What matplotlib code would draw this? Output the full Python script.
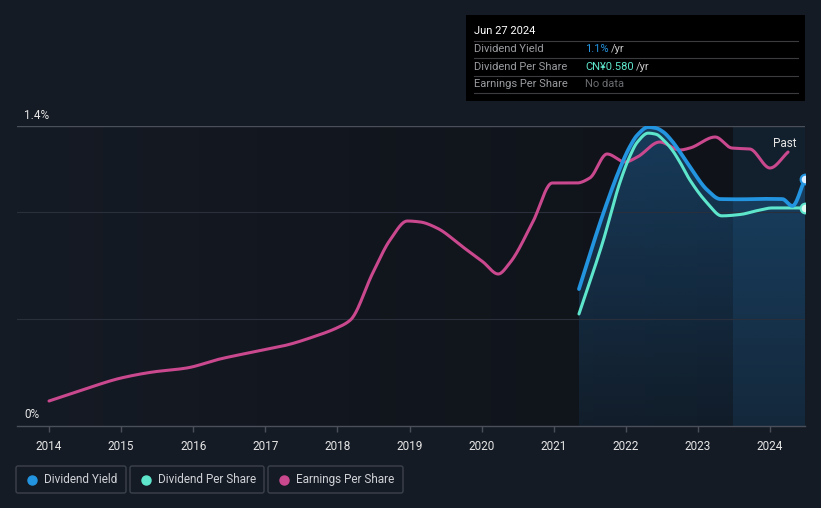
import matplotlib
matplotlib.use("Agg")
import matplotlib.pyplot as plt
import numpy as np
from matplotlib.patches import FancyBboxPatch, Rectangle

plt.rcParams['font.family'] = ['Roboto', 'DejaVu Sans']

# data (decimal years)
yield_dates = [2021.35, 2021.68, 2021.92, 2022.05, 2022.16, 2022.31, 2022.42, 2022.52,
               2022.64, 2022.75, 2022.89, 2023.13, 2023.31, 2023.6, 2023.9, 2024.17,
               2024.31, 2024.485]
yield_pct = [0.639, 0.985, 1.204, 1.30, 1.358, 1.395, 1.39, 1.372,
             1.33, 1.279, 1.209, 1.101, 1.059, 1.058, 1.06, 1.059,
             1.027, 1.153]

dps_dates = [2021.35, 2021.68, 2021.92, 2022.05, 2022.16, 2022.31, 2022.42, 2022.52,
             2022.64, 2022.75, 2022.89, 2023.13, 2023.33, 2023.6, 2023.8, 2024.03,
             2024.485]
dps_cny = [0.298, 0.489, 0.649, 0.715, 0.755, 0.779, 0.776, 0.761,
           0.735, 0.702, 0.654, 0.593, 0.559, 0.563, 0.572, 0.580,
           0.580]

eps_dates = [2014.0, 2014.5, 2015.0, 2015.44, 2015.91, 2016.37, 2016.83, 2017.3,
             2017.66, 2017.99, 2018.18, 2018.49, 2018.73, 2018.97, 2019.15, 2019.38,
             2019.74, 2020.02, 2020.23, 2020.39, 2020.71, 2020.98, 2021.32, 2021.5,
             2021.74, 2021.99, 2022.16, 2022.47, 2022.75, 2022.89, 2023.24, 2023.47,
             2023.72, 2024.0, 2024.25]
eps_cny = [0.100, 0.148, 0.192, 0.216, 0.232, 0.268, 0.296, 0.324,
           0.356, 0.392, 0.424, 0.612, 0.744, 0.820, 0.816, 0.792,
           0.716, 0.656, 0.608, 0.652, 0.816, 0.972, 0.972, 0.992,
           1.088, 1.056, 1.076, 1.136, 1.104, 1.112, 1.156, 1.112,
           1.108, 1.032, 1.096]

years = list(range(2014, 2025))
past_start = 2023.49

BG = '#151b25'
BLUE = '#2394df'
TEAL = '#5ee6cc'
PINK = '#c9488e'


def smooth(xs, ys, per_seg=24):
    # monotone cubic (Fritsch-Carlson) just for drawing the curve
    x = np.asarray(xs, float)
    y = np.asarray(ys, float)
    h = np.diff(x)
    d = np.diff(y) / h
    m = np.zeros_like(y)
    m[0], m[-1] = d[0], d[-1]
    for i in range(1, len(x) - 1):
        if d[i - 1] * d[i] > 0:
            w1 = 2 * h[i] + h[i - 1]
            w2 = h[i] + 2 * h[i - 1]
            m[i] = (w1 + w2) / (w1 / d[i - 1] + w2 / d[i])
    px, py = [], []
    for i in range(len(x) - 1):
        t = np.linspace(0, 1, per_seg, endpoint=False)
        h00 = 2 * t**3 - 3 * t**2 + 1
        h10 = t**3 - 2 * t**2 + t
        h01 = -2 * t**3 + 3 * t**2
        h11 = t**3 - t**2
        px.append(x[i] + t * h[i])
        py.append(h00 * y[i] + h10 * h[i] * m[i] + h01 * y[i + 1] + h11 * h[i] * m[i + 1])
    px.append([x[-1]])
    py.append([y[-1]])
    return np.concatenate(px), np.concatenate(py)


fig = plt.figure(figsize=(8.21, 5.08), dpi=100)
fig.patch.set_facecolor(BG)

W, H = 821, 508
ax = fig.add_axes([17 / W, (H - 426) / H, (805 - 17) / W, 300 / H])
x0, x1 = 2013.556, 2024.485
ax.set_xlim(x0, x1)
ax.set_ylim(0, 1.4)

# darkening gradient of plot area
grad = np.linspace(0, 1, 256).reshape(1, -1)
c0 = np.array([21, 27, 37]) / 255
c1 = np.array([15, 18, 24]) / 255
img = c0 + (c1 - c0) * grad[..., None] ** 0.8
ax.imshow(img, extent=[x0, x1, 0, 1.4], aspect='auto', zorder=0)

yx, yy = smooth(yield_dates, yield_pct)
dx, dy = smooth(dps_dates, dps_cny)
ex, ey = smooth(eps_dates, eps_cny)

# fill under dividend yield with vertical gradient
poly = ax.fill_between(yx, 0, yy, facecolor='none', edgecolor='none')
vg = np.linspace(1, 0, 256).reshape(-1, 1)
fill_img = np.zeros((256, 1, 4))
fill_img[..., 0:3] = np.array([35, 120, 190]) / 255
fill_img[..., 3] = 0.10 + 0.30 * vg
im = ax.imshow(fill_img, extent=[x0, x1, 0, 1.4], aspect='auto', zorder=1)
im.set_clip_path(poly.get_paths()[0], transform=ax.transData)

ax.axvspan(past_start, x1, color='#2b7fc0', alpha=0.13, lw=0, zorder=1.5)

for g in [0.5, 1.0]:
    ax.axhline(g, color='#2a303b', lw=0.8, zorder=2)
ax.axhline(1.4, color='#4a4f5a', lw=1.0, zorder=2)

for s in ['top', 'right', 'left']:
    ax.spines[s].set_visible(False)
ax.spines['bottom'].set_color('#4a4f5a')
ax.spines['bottom'].set_linewidth(1.0)
ax.set_yticks([])
ax.set_xticks(years)
ax.set_xticklabels([str(y) for y in years])
ax.tick_params(axis='x', colors='#4a4f5a', labelcolor='#e6e6e6', length=4,
               width=1, labelsize=8.5, pad=6)

ax.annotate('1.4%', (0.009, 1.4), xycoords=ax.get_yaxis_transform(),
            xytext=(0, 3), textcoords='offset points',
            color='#e6e6e6', fontsize=8.5, va='bottom', ha='left')
ax.annotate('0%', (0.009, 0.0), xycoords=ax.get_yaxis_transform(),
            xytext=(0, 3.5), textcoords='offset points',
            color='#e6e6e6', fontsize=8.5, va='bottom', ha='left')
ax.text(2024.37, 1.35, 'Past', color='#e6e6e6', fontsize=8.5, ha='right', va='top', zorder=6)

# earnings per share on its own hidden scale
ax_eps = ax.twinx()
ax_eps.set_ylim(0, 1.2)
ax_eps.axis('off')
ax_eps.plot(ex, ey, color=PINK, lw=2.2, solid_capstyle='round', solid_joinstyle='round')

# dividend per share on its own hidden scale
ax_dps = ax.twinx()
ax_dps.set_ylim(0, 0.798)
ax_dps.axis('off')
ax_dps.plot(dx, dy, color=TEAL, lw=2.2, solid_capstyle='round', solid_joinstyle='round')
ax_dps.plot(dps_dates[-1], dps_cny[-1], 'o', ms=7, mfc='#dff8f2', mec=TEAL, mew=1.5)

ax_y = ax.twinx()
ax_y.set_ylim(0, 1.4)
ax_y.axis('off')
ax_y.plot(yx, yy, color=BLUE, lw=2.7, solid_capstyle='round', solid_joinstyle='round')
ax_y.plot(yield_dates[-1], yield_pct[-1], 'o', ms=7, mfc='#e0efff', mec=BLUE, mew=1.5)

# overlay in pixel coordinates for tooltip and legend
ov = fig.add_axes([0, 0, 1, 1])
ov.set_xlim(0, W)
ov.set_ylim(H, 0)
ov.axis('off')
ov.patch.set_alpha(0)

ov.add_patch(Rectangle((466, 15), 339, 86, facecolor='#000000', edgecolor='none'))
ov.text(474, 31, 'Jun 27 2024', color='#ffffff', fontsize=8, va='center')
for ly in [41, 58, 75.5, 92.5]:
    ov.plot([474, 798], [ly, ly], color='#3a3c40', lw=0.8)
rows = [('Dividend Yield', 49.5), ('Dividend Per Share', 66.5), ('Earnings Per Share', 84)]
for label, ry in rows:
    ov.text(474, ry, label, color='#9a9ca0', fontsize=8, va='center')
ov.text(585, 49.5, '1.1%', color=BLUE, fontsize=8, va='center')
ov.text(611, 49.5, '/yr', color='#c8c8c8', fontsize=8, va='center')
ov.text(585, 66.5, 'CN¥0.580', color=TEAL, fontsize=8, va='center')
ov.text(636, 66.5, '/yr', color='#c8c8c8', fontsize=8, va='center')
ov.text(585, 84, 'No data', color='#6a6c70', fontsize=8, va='center')

legend_items = [('Dividend Yield', BLUE, 16, 110), ('Dividend Per Share', TEAL, 130, 134),
                ('Earnings Per Share', PINK, 268, 135)]
for label, col, bx, bw in legend_items:
    ov.add_patch(FancyBboxPatch((bx, 466), bw, 27, boxstyle='round,pad=0,rounding_size=2',
                                facecolor='none', edgecolor='#3c414b', lw=1))
    ov.plot(bx + 16, 479.5, 'o', ms=6.5, color=col)
    ov.text(bx + 28, 479.5, label, color='#cfd2d6', fontsize=8.5, va='center')

fig.savefig('out.png', dpi=100, facecolor=BG)
